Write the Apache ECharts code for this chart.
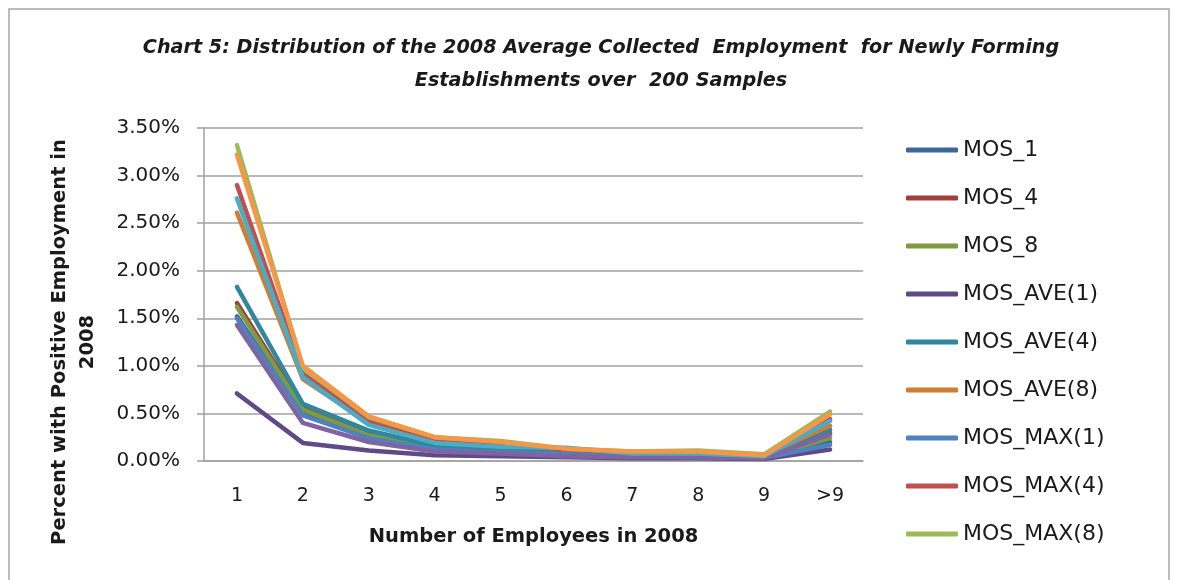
<!DOCTYPE html>
<html>
<head>
<meta charset="utf-8">
<script src="https://cdn.jsdelivr.net/npm/echarts@6/dist/echarts.min.js"></script>
<style>
  html, body { margin: 0; padding: 0; background: #fff; }
  #chart { width: 1177px; height: 580px; }
</style>
</head>
<body>
<div id="chart"></div>
<script>
// categories on the x axis
const categories = ['1', '2', '3', '4', '5', '6', '7', '8', '9', '>9'];

// percent values
const mos1    = [1.52, 0.50, 0.25, 0.12, 0.10, 0.07, 0.05, 0.05, 0.03, 0.20];
const mos4    = [1.66, 0.56, 0.28, 0.14, 0.11, 0.09, 0.06, 0.06, 0.04, 0.30];
const mos8    = [1.62, 0.54, 0.27, 0.14, 0.11, 0.09, 0.06, 0.06, 0.04, 0.24];
const mosAve1 = [0.71, 0.19, 0.11, 0.06, 0.05, 0.04, 0.03, 0.03, 0.02, 0.12];
const mosAve4 = [1.83, 0.60, 0.32, 0.16, 0.13, 0.11, 0.07, 0.07, 0.05, 0.33];
const mosAve8 = [2.61, 0.86, 0.40, 0.23, 0.19, 0.12, 0.09, 0.09, 0.06, 0.37];
const mosMax1 = [1.50, 0.48, 0.24, 0.12, 0.09, 0.07, 0.05, 0.04, 0.03, 0.17];
const mosMax4 = [2.90, 0.92, 0.42, 0.22, 0.18, 0.12, 0.09, 0.09, 0.06, 0.44];
const mosMax8 = [3.32, 0.98, 0.46, 0.25, 0.21, 0.13, 0.10, 0.11, 0.07, 0.52];
// three more lines are drawn but cut off from the legend
const extraA  = [1.43, 0.40, 0.20, 0.10, 0.08, 0.05, 0.04, 0.04, 0.03, 0.28];
const extraB  = [2.76, 0.88, 0.38, 0.19, 0.15, 0.14, 0.08, 0.08, 0.05, 0.42];
const extraC  = [3.22, 1.00, 0.47, 0.25, 0.20, 0.13, 0.10, 0.10, 0.06, 0.49];

const yTicks = [0, 0.5, 1.0, 1.5, 2.0, 2.5, 3.0, 3.5];

const seriesDefs = [
  { name: 'MOS_1',      data: mos1,    color: '#3d679a' },
  { name: 'MOS_4',      data: mos4,    color: '#a0403d' },
  { name: 'MOS_8',      data: mos8,    color: '#7e9b42' },
  { name: 'MOS_AVE(1)', data: mosAve1, color: '#5f4a87' },
  { name: 'MOS_AVE(4)', data: mosAve4, color: '#31879e' },
  { name: 'MOS_AVE(8)', data: mosAve8, color: '#d17c33' },
  { name: 'MOS_MAX(1)', data: mosMax1, color: '#4f81bd' },
  { name: 'MOS_MAX(4)', data: mosMax4, color: '#c0504d' },
  { name: 'MOS_MAX(8)', data: mosMax8, color: '#9bbb59' },
  { name: 'Series10',   data: extraA,  color: '#8064a2' },
  { name: 'Series11',   data: extraB,  color: '#4bacc6' },
  { name: 'Series12',   data: extraC,  color: '#f79646' }
];
const legendNames = seriesDefs.slice(0, 9).map(s => s.name);

const chart = echarts.init(document.getElementById('chart'), null, { renderer: 'canvas' });

const FONT = '"DejaVu Sans", Verdana, sans-serif';

const option = {
  animation: false,
  backgroundColor: '#fff',
  textStyle: { fontFamily: FONT },
  title: {
    text: 'Chart 5: Distribution of the 2008 Average Collected  Employment  for Newly Forming\nEstablishments over  200 Samples',
    left: 596,
    top: 27,
    textAlign: 'center',
    textStyle: {
      fontFamily: FONT,
      fontSize: 19.2,
      fontWeight: 'bold',
      fontStyle: 'italic',
      color: '#1a1a1a',
      lineHeight: 33
    }
  },
  grid: { left: 204, right: 314, top: 128, bottom: 119 },
  legend: {
    data: legendNames,
    orient: 'vertical',
    left: 901,
    top: 134,
    icon: 'roundRect',
    itemWidth: 52,
    itemHeight: 5,
    itemGap: 26,
    textStyle: { fontFamily: FONT, fontSize: 22, color: '#1a1a1a', lineHeight: 20 }
  },
  xAxis: {
    type: 'category',
    data: categories,
    boundaryGap: true,
    name: 'Number of Employees in 2008',
    nameLocation: 'middle',
    nameGap: 66,
    nameTextStyle: { fontFamily: FONT, fontSize: 19.5, fontWeight: 'bold', color: '#1a1a1a' },
    axisLine: { lineStyle: { color: '#a0a0a0', width: 1.5 } },
    axisTick: { show: false },
    axisLabel: { fontFamily: FONT, fontSize: 19, color: '#1a1a1a', margin: 26 }
  },
  yAxis: {
    type: 'value',
    min: 0,
    max: 3.5,
    interval: 0.5,
    axisLine: { show: true, lineStyle: { color: '#a0a0a0', width: 1.5 } },
    axisTick: { show: true, length: 7, lineStyle: { color: '#a0a0a0', width: 1.5 } },
    splitLine: { show: true, lineStyle: { color: '#a0a0a0', width: 1.5 } },
    axisLabel: {
      fontFamily: FONT,
      fontSize: 20,
      color: '#1a1a1a',
      margin: 24,
      formatter: v => yTicks.includes(v) ? v.toFixed(2) + '%' : ''
    }
  },
  graphic: [
    {
      type: 'rect',
      shape: { x: 9, y: 9, width: 1160, height: 600 },
      style: { fill: 'none', stroke: '#a6a6a6', lineWidth: 1.5 },
      silent: true
    },
    {
      type: 'text',
      x: 74,
      y: 342,
      rotation: Math.PI / 2,
      style: {
        text: 'Percent with Positive Employment in\n2008',
        fontFamily: FONT,
        fontSize: 19.5,
        fontWeight: 'bold',
        fill: '#1a1a1a',
        align: 'center',
        verticalAlign: 'middle',
        lineHeight: 28
      }
    }
  ],
  series: seriesDefs.map(s => ({
    name: s.name,
    type: 'line',
    data: s.data,
    symbol: 'none',
    smooth: false,
    color: s.color,
    lineStyle: { color: s.color, width: 4.5, cap: 'round', join: 'round' }
  }))
};

chart.setOption(option);
</script>
</body>
</html>
